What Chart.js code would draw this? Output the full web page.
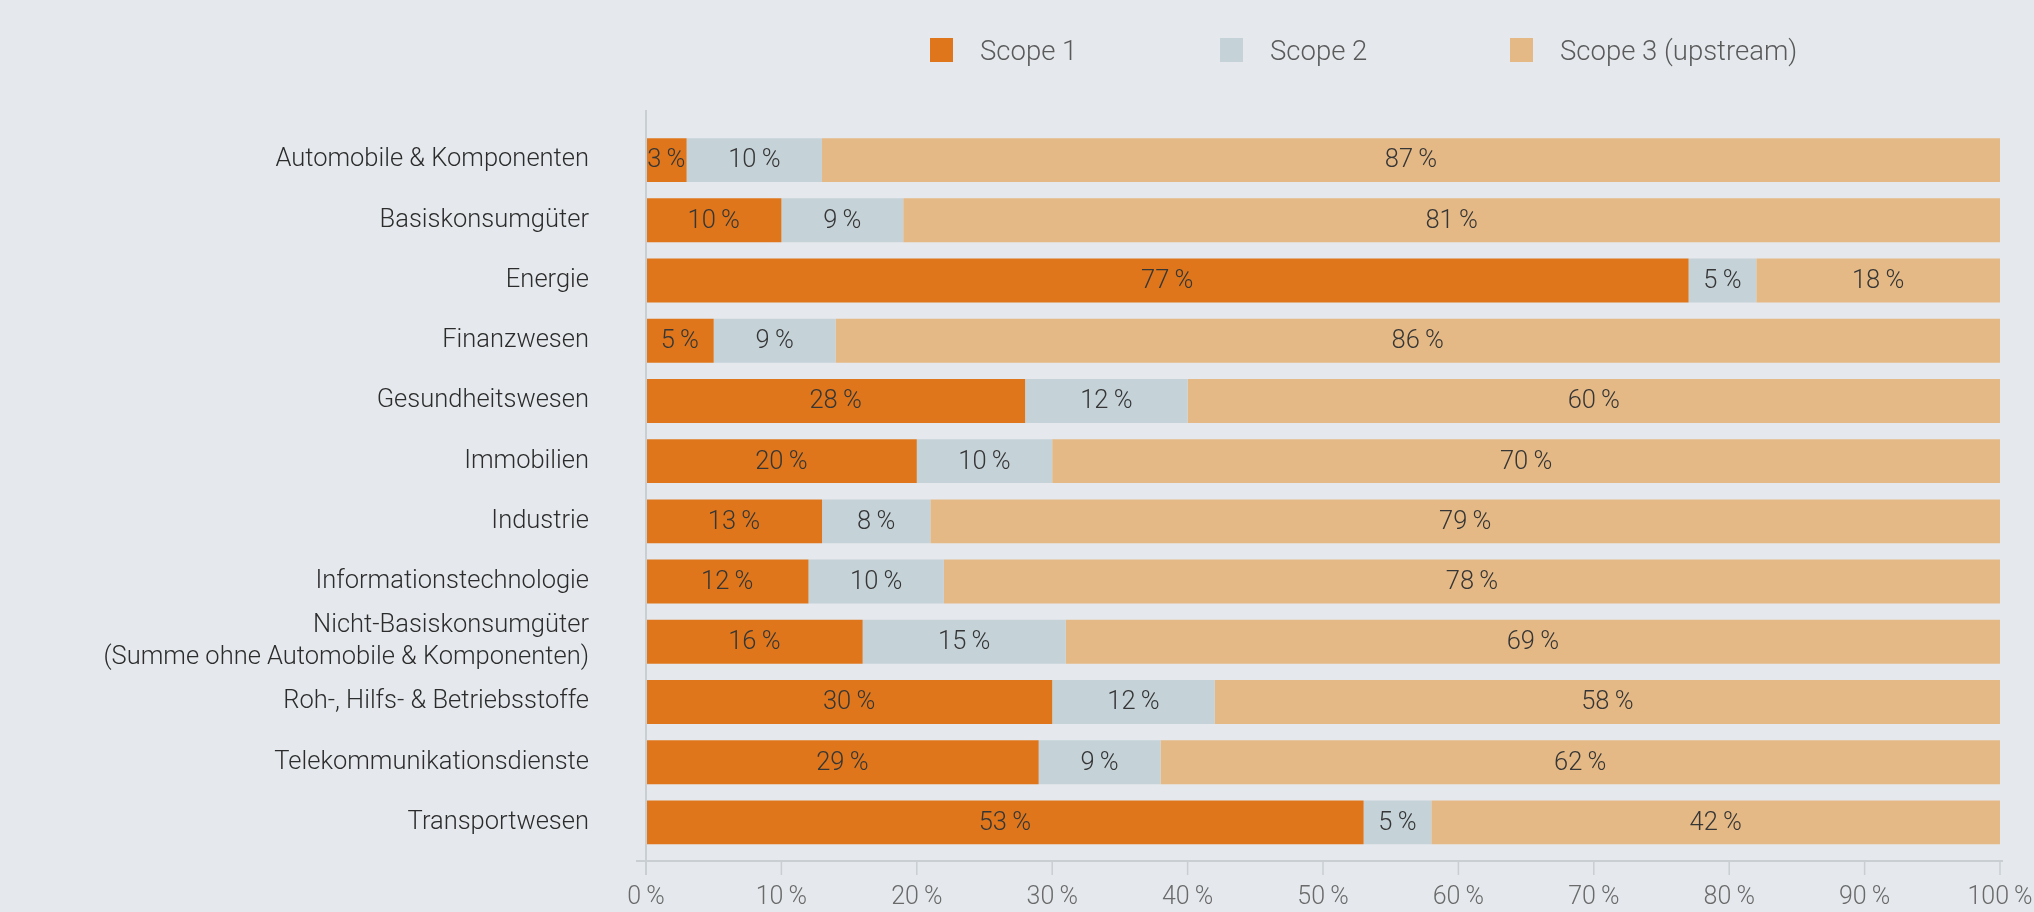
<!DOCTYPE html>
<html>
<head>
<meta charset="utf-8">
<script src="https://cdn.jsdelivr.net/npm/chart.js@4"></script>
<style>
  html, body { margin: 0; padding: 0; background: #e5e9ed; }
  #wrap { position: relative; width: 2034px; height: 912px; background: #e5e9ed; }
  #c { position: absolute; left: 0; top: 0; }
  .lg { position: absolute; top: 38px; height: 24px; display: flex; align-items: center; font-family: Roboto, "Liberation Sans", sans-serif; font-weight: 300; font-size: 27.5px; color: #5a5a5a; white-space: nowrap; }
  .lg span.sw { display: inline-block; width: 23px; height: 24px; margin-right: 27px; }
</style>
</head>
<body>
<div id="wrap">
  <canvas id="c" width="2034" height="912"></canvas>
  <div id="legend"></div>
</div>
<script>
const categories = [
  "Automobile & Komponenten",
  "Basiskonsumgüter",
  "Energie",
  "Finanzwesen",
  "Gesundheitswesen",
  "Immobilien",
  "Industrie",
  "Informationstechnologie",
  ["Nicht-Basiskonsumgüter", "(Summe ohne Automobile & Komponenten)"],
  "Roh-, Hilfs- & Betriebsstoffe",
  "Telekommunikationsdienste",
  "Transportwesen"
];
const seriesNames = ["Scope 1", "Scope 2", "Scope 3 (upstream)"];
const scope1 = [3, 10, 77, 5, 28, 20, 13, 12, 16, 30, 29, 53];
const scope2 = [10, 9, 5, 9, 12, 10, 8, 10, 15, 12, 9, 5];
const scope3 = [87, 81, 18, 86, 60, 70, 79, 78, 69, 58, 62, 42];
const xTicks = [0, 10, 20, 30, 40, 50, 60, 70, 80, 90, 100];

const colors = ["#df761b", "#c5d2d8", "#e5b985"];
const FONT = 'Roboto, "Liberation Sans", sans-serif';

// HTML legend
const legendLeft = [930, 1220, 1510];
const legendEl = document.getElementById('legend');
seriesNames.forEach((n, i) => {
  const d = document.createElement('div');
  d.className = 'lg';
  d.style.left = legendLeft[i] + 'px';
  d.innerHTML = '<span class="sw" style="background:' + colors[i] + '"></span>';
  d.appendChild(document.createTextNode(n));
  legendEl.appendChild(d);
});

const axisPlugin = {
  id: 'axisPlugin',
  afterDraw(chart) {
    const ctx = chart.ctx;
    const xs = chart.scales.x;
    const axisY = 861;
    ctx.save();
    ctx.strokeStyle = '#c9ced3';
    ctx.lineWidth = 2;
    ctx.beginPath();
    ctx.moveTo(xs.getPixelForValue(0), 110);
    ctx.lineTo(xs.getPixelForValue(0), 875);
    ctx.stroke();
    ctx.beginPath();
    ctx.moveTo(xs.getPixelForValue(0) - 10, axisY);
    ctx.lineTo(xs.getPixelForValue(100) + 3, axisY);
    ctx.stroke();
    ctx.lineWidth = 1.5;
    xTicks.forEach(v => {
      const px = xs.getPixelForValue(v);
      ctx.beginPath();
      ctx.moveTo(px, axisY);
      ctx.lineTo(px, 875);
      ctx.stroke();
    });
    ctx.restore();
  }
};

const labelPlugin = {
  id: 'labelPlugin',
  afterDatasetsDraw(chart) {
    const ctx = chart.ctx;
    ctx.save();
    ctx.font = '300 25.5px ' + FONT;
    ctx.fillStyle = '#363636';
    ctx.textAlign = 'center';
    ctx.textBaseline = 'middle';
    chart.data.datasets.forEach((ds, di) => {
      const meta = chart.getDatasetMeta(di);
      meta.data.forEach((bar, i) => {
        const v = ds.data[i];
        const cx = (bar.x + bar.base) / 2;
        ctx.fillText(v + '\u2009%', cx, bar.y + 1);
      });
    });
    ctx.restore();
  }
};

new Chart(document.getElementById('c'), {
  type: 'bar',
  data: {
    labels: categories,
    datasets: [
      { label: seriesNames[0], data: scope1, backgroundColor: colors[0] },
      { label: seriesNames[1], data: scope2, backgroundColor: colors[1] },
      { label: seriesNames[2], data: scope3, backgroundColor: colors[2] }
    ]
  },
  options: {
    indexAxis: 'y',
    responsive: false,
    animation: false,
    layout: { padding: { top: 130, right: 34, bottom: 0, left: 0 } },
    datasets: { bar: { categoryPercentage: 1, barPercentage: 0.73, borderWidth: 0 } },
    plugins: { legend: { display: false }, tooltip: { enabled: false } },
    scales: {
      x: {
        stacked: true,
        min: 0, max: 100,
        afterFit(s) { s.height = 59.5; s.paddingLeft = 0; s.paddingRight = 0; },
        afterBuildTicks(s) { s.ticks = xTicks.map(v => ({ value: v })); },
        grid: { display: false, drawTicks: false },
        border: { display: false },
        ticks: {
          padding: 30,
          color: '#6a6a6a',
          font: { family: FONT, size: 25, weight: 300 },
          callback: v => v + '\u2009%',
          maxRotation: 0
        }
      },
      y: {
        stacked: true,
        afterFit(s) { s.width = 646; s.paddingTop = 0; s.paddingBottom = 0; },
        grid: { display: false, drawTicks: false },
        border: { display: false },
        ticks: {
          padding: 57,
          color: '#2c2c2c',
          font: { family: FONT, size: 25.5, weight: 300, lineHeight: 1.25 },
          autoSkip: false
        }
      }
    }
  },
  plugins: [axisPlugin, labelPlugin]
});
</script>
</body>
</html>
